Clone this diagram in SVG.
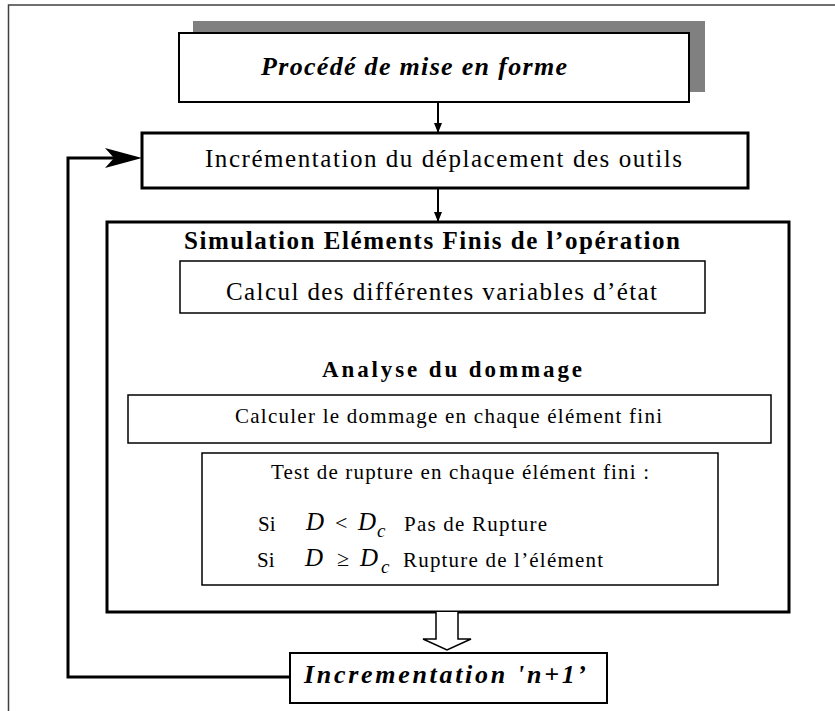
<svg xmlns="http://www.w3.org/2000/svg" width="835" height="711" viewBox="0 0 835 711">
<style>
text{font-family:"Liberation Serif","Times New Roman",serif;fill:#000}
.r{font-size:25px}
.s{font-size:21px}
.b{font-weight:bold}
.bi{font-weight:bold;font-style:italic;font-size:26px}
.it{font-style:italic}
.box{fill:#fff;stroke:#000}
.ln{fill:none;stroke:#000}
</style>
<defs>
<marker id="ah" viewBox="0 0 10 8" refX="10" refY="4" markerWidth="10" markerHeight="8" markerUnits="userSpaceOnUse" orient="auto">
<path d="M0,0 L10,4 L0,8 Z" fill="#000"/>
</marker>
</defs>
<rect x="0" y="0" width="835" height="711" fill="#fff"/>
<path d="M8.5,711 V5 H835" fill="none" stroke="#404040" stroke-width="1.5"/>

<g id="n-procede">
<rect x="193" y="21" width="512" height="71" fill="#808080"/>
<rect class="box" x="179" y="33" width="510" height="69" stroke-width="2"/>
<text class="bi" x="261" y="75" textLength="306" lengthAdjust="spacing">Procédé de mise en forme</text>
</g>

<g id="n-increment">
<rect class="box" x="142" y="133" width="606" height="55" stroke-width="3"/>
<text class="r" x="205" y="167" textLength="477" lengthAdjust="spacing">Incrémentation du déplacement des outils</text>
</g>

<g id="n-simulation">
<rect class="box" x="107" y="222" width="682" height="390" stroke-width="3"/>
<text class="r b" x="184" y="249" textLength="496" lengthAdjust="spacing">Simulation Eléments Finis de l’opération</text>
<text class="b" style="font-size:23px" x="322" y="377" textLength="260" lengthAdjust="spacing">Analyse du dommage</text>
</g>

<g id="n-calcul">
<rect class="box" x="180" y="261" width="525" height="52" stroke-width="1.5"/>
<text class="r" x="226" y="300" textLength="431" lengthAdjust="spacing">Calcul des différentes variables d’état</text>
</g>

<g id="n-dommage">
<rect class="box" x="128" y="395" width="643" height="48" stroke-width="1.5"/>
<text class="s" x="235" y="423" textLength="427" lengthAdjust="spacing">Calculer le dommage en chaque élément fini</text>
</g>

<g id="n-test">
<rect class="box" x="202" y="453" width="516" height="132" stroke-width="1.5"/>
<text class="s" x="271" y="479" textLength="378" lengthAdjust="spacing">Test de rupture en chaque élément fini :</text>
<text class="s" x="258" y="531">Si</text>
<text class="it" style="font-size:25px" x="306" y="530">D</text>
<text style="font-size:22px" x="335" y="530">&lt;</text>
<text class="it" style="font-size:25px" x="358" y="530">D</text>
<text class="it" style="font-size:19px" x="377" y="537">c</text>
<text class="s" x="404" y="531" textLength="143" lengthAdjust="spacing">Pas de Rupture</text>
<text class="s" x="257" y="567">Si</text>
<text class="it" style="font-size:25px" x="305" y="566">D</text>
<text style="font-size:22px" x="337" y="566">≥</text>
<text class="it" style="font-size:25px" x="360" y="566">D</text>
<text class="it" style="font-size:19px" x="381" y="573">c</text>
<text class="s" x="403" y="567" textLength="200" lengthAdjust="spacing">Rupture de l’élément</text>
</g>

<g id="n-n1">
<rect class="box" x="290" y="653" width="317" height="50" stroke-width="2"/>
<text class="bi" x="304" y="683" textLength="282" lengthAdjust="spacing">Incrementation 'n+1’</text>
</g>

<g id="connectors">
<line class="ln" x1="438" y1="102" x2="438" y2="133" stroke-width="2" marker-end="url(#ah)"/>
<line class="ln" x1="438" y1="188" x2="438" y2="222" stroke-width="2" marker-end="url(#ah)"/>
<path d="M436,612 V639 H423 L447,650 L471,639 H458 V612" fill="#fff" stroke="#000" stroke-width="1.5"/>
<path class="ln" d="M290,677 H68 V158 H120" stroke-width="3"/>
<path d="M142,158 L105,148 L114,158 L105,168 Z" fill="#000"/>
</g>
</svg>
